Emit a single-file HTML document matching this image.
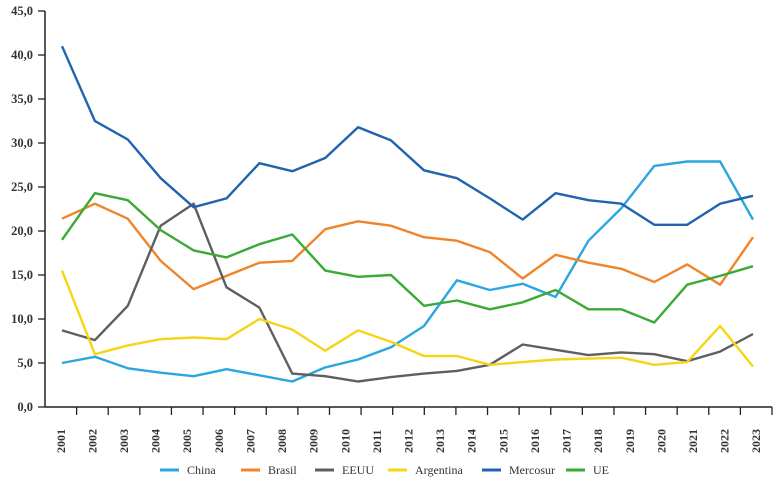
<!DOCTYPE html>
<html><head><meta charset="utf-8"><style>
body{margin:0;background:#fff;}
svg{display:block;font-family:"Liberation Serif",serif;}
</style></head><body>
<svg id="chart" width="780" height="488"></svg>
<script>
const years=["2001","2002","2003","2004","2005","2006","2007","2008","2009","2010","2011","2012","2013","2014","2015","2016","2017","2018","2019","2020","2021","2022","2023"];
const yTicks=[0,5,10,15,20,25,30,35,40,45];
const seriesNames=["China","Brasil","EEUU","Argentina","Mercosur","UE"];
const seriesColors=["#2aa6e0","#f0842a","#5f5f5f","#f5d514","#1f64ad","#3aaa35"];
const china=[5.0,5.7,4.4,3.9,3.5,4.3,3.6,2.9,4.5,5.4,6.8,9.2,14.4,13.3,14.0,12.5,18.9,22.6,27.4,27.9,27.9,21.3];
const brasil=[21.4,23.1,21.4,16.6,13.4,14.9,16.4,16.6,20.2,21.1,20.6,19.3,18.9,17.6,14.6,17.3,16.4,15.7,14.2,16.2,13.9,19.3];
const eeuu=[8.7,7.6,11.5,20.6,23.1,13.6,11.3,3.8,3.5,2.9,3.4,3.8,4.1,4.8,7.1,6.5,5.9,6.2,6.0,5.2,6.3,8.3];
const argentina=[15.5,6.0,7.0,7.7,7.9,7.7,10.0,8.8,6.4,8.7,7.4,5.8,5.8,4.8,5.1,5.4,5.5,5.6,4.8,5.1,9.2,4.6];
const mercosur=[41.0,32.5,30.4,26.0,22.7,23.7,27.7,26.8,28.3,31.8,30.3,26.9,26.0,23.7,21.3,24.3,23.5,23.1,20.7,20.7,23.1,24.0];
const ue=[19.0,24.3,23.5,20.1,17.8,17.0,18.5,19.6,15.5,14.8,15.0,11.5,12.1,11.1,11.9,13.3,11.1,11.1,9.6,13.9,14.9,16.0];
const allSeries=[china,brasil,eeuu,argentina,mercosur,ue];

const NS="http://www.w3.org/2000/svg";
const svg=document.getElementById('chart');
function mk(t,a,p){const e=document.createElementNS(NS,t);for(const k in a)e.setAttribute(k,a[k]);(p||svg).appendChild(e);return e;}
const x0=45,x1=772,y0=407,yTop=11;
const yS=v=>y0-(v/45)*(y0-yTop);
const band=(x1-x0)/years.length;
const px0=62,px1=753;
const xS=(i,n)=>px0+i*(px1-px0)/(n-1);

// axes
const yAxis=mk('line',{x1:x0,y1:yTop,x2:x0,y2:y0,stroke:'#222','stroke-width':1.5});


const xAxis=mk('line',{x1:x0,y1:y0,x2:x1,y2:y0,stroke:'#222','stroke-width':1.5});


yTicks.forEach(v=>{
  const y=yS(v);
  mk('line',{x1:x0-7,y1:y,x2:x0,y2:y,stroke:'#222','stroke-width':1.3});
  const t=mk('text',{x:33,y:y+4,'text-anchor':'end','font-size':12.5,'font-weight':'bold',fill:'#333'});
  t.textContent=v.toFixed(1).replace('.',',');
  
  
});
years.forEach((yr,i)=>{
  const xt=x0+(i+1)*band;
  mk('line',{x1:xt,y1:y0,x2:xt,y2:y0+8,stroke:'#222','stroke-width':1.3});
  const cx=x0+(i+0.5)*band;
  const t=mk('text',{x:0,y:0,transform:`translate(${cx+4},${y0+46}) rotate(-90)`,'font-size':12,'font-weight':'bold',fill:'#333'});
  t.textContent=yr;
  
  
});
allSeries.forEach((d,s)=>{
  const pts=d.map((v,i)=>xS(i,d.length).toFixed(1)+','+yS(v).toFixed(1)).join(' ');
  const l=mk('polyline',{points:pts,fill:'none',stroke:seriesColors[s],'stroke-width':2.4,'stroke-linejoin':'round'});
  
  
});
// legend
const legX=[160,241,315,388,482,566];
seriesNames.forEach((n,i)=>{
  const g=mk('g',{});
  
  
  mk('line',{x1:legX[i],y1:470,x2:legX[i]+19,y2:470,stroke:seriesColors[i],'stroke-width':3},g);
  const t=mk('text',{x:legX[i]+27,y:474,'font-size':12,fill:'#333'},g);
  t.textContent=n;
});
</script>
</body></html>
